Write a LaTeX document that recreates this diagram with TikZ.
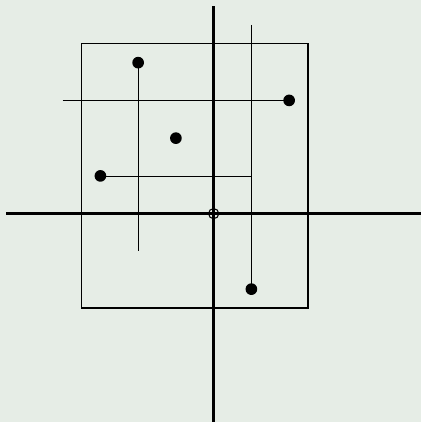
\documentclass[tikz,border=0pt]{standalone}
\definecolor{bg}{RGB}{230,237,230}
\definecolor{thin}{RGB}{40,40,40}
\begin{document}
\begin{tikzpicture}[
  pt/.style={circle,fill=black,inner sep=0pt,minimum size=0.31cm},
  axis/.style={line width=2.3pt,black},
  split/.style={line width=0.8pt,thin},
  box/.style={line width=0.8pt,black}
]
\fill[bg] (-5.66,-5.52) rectangle (5.49,5.66);
\useasboundingbox (-5.66,-5.52) rectangle (5.49,5.66);
\coordinate (xl) at (-5.5,0); \coordinate (xr) at (5.49,0);
\coordinate (yt) at (0,5.5); \coordinate (yb) at (0,-5.52);
\draw[axis] (xl) -- (xr);
\draw[axis] (yt) -- (yb);
\draw[box] (-3.5,-2.5) rectangle (2.5,4.5);
\node[pt] (a) at (-2,4) {};
\node[pt] (b) at (2,3) {};
\node[pt] (c) at (-1,2) {};
\node[pt] (d) at (-3,1) {};
\node[pt] (e) at (1,-2) {};
\coordinate (etop) at (1,5);
\coordinate (bleft) at (-4,3);
\coordinate (abot) at (-2,-1);
\coordinate (dright) at (1,1);
\draw[split] (etop) -- (e.center);
\draw[split] (bleft) -- (b.center);
\draw[split] (a.center) -- (abot);
\draw[split] (d.center) -- (dright);
\node[circle,draw=black,line width=0.8pt,fill=none,inner sep=0pt,minimum size=0.27cm] (o) at (0,0) {};
\end{tikzpicture}
\end{document}
